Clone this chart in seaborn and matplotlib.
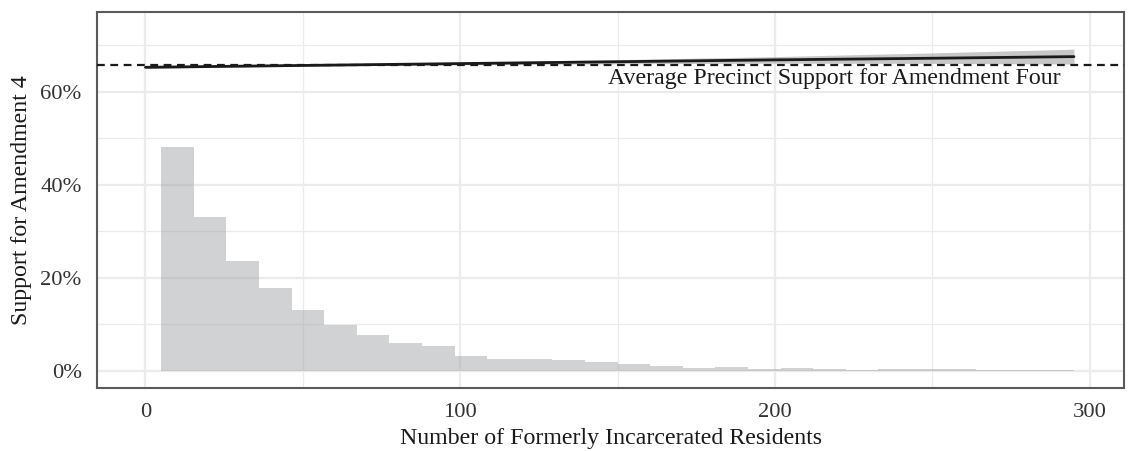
import numpy as np
import pandas as pd
import seaborn as sns
from matplotlib import pyplot as plt
from matplotlib.ticker import PercentFormatter, MultipleLocator

# histogram of precincts (28 bins from 5 to 295), heights in percent
bin_lo, bin_hi, n_bins = 5, 295, 28
bin_heights = [48.2, 33.1, 23.7, 17.8, 13.1, 9.9, 7.7, 6.0, 5.4, 3.2,
               2.6, 2.6, 2.3, 1.9, 1.5, 1.1, 0.65, 0.86, 0.33, 0.64,
               0.36, 0.14, 0.36, 0.3, 0.43, 0.21, 0.07, 0.07]

# fitted line with confidence band
fit_x = [0, 50, 100, 150, 200, 250, 295]
fit_y = [65.3, 65.7, 66.1, 66.5, 66.9, 67.25, 67.6]
fit_lo = [65.1, 65.55, 65.85, 66.05, 66.2, 66.15, 66.0]
fit_hi = [65.5, 65.85, 66.35, 66.95, 67.6, 68.4, 69.2]

avg_support = 65.8
avg_label = 'Average Precinct Support for Amendment Four'

sns.set_theme(style='whitegrid')
plt.rcParams['font.family'] = ['Liberation Serif', 'DejaVu Serif']

fig, ax = plt.subplots(figsize=(11.32, 4.51), dpi=100)
fig.subplots_adjust(left=97 / 1132, right=1124 / 1132, top=1 - 12 / 451, bottom=1 - 388 / 451)

width = (bin_hi - bin_lo) / n_bins
df = pd.DataFrame({'x': bin_lo + width * (np.arange(n_bins) + 0.5), 'h': bin_heights})
sns.histplot(data=df, x='x', weights='h', binwidth=width, binrange=(bin_lo, bin_hi),
             color='#9a9ca0', alpha=0.45, linewidth=0, ax=ax)

fit = pd.DataFrame({'x': fit_x, 'y': fit_y, 'lo': fit_lo, 'hi': fit_hi})
ax.fill_between(fit['x'], fit['lo'], fit['hi'], color='#999999', alpha=0.55, linewidth=0, zorder=3)
sns.lineplot(data=fit, x='x', y='y', color='#1a1a1a', linewidth=2.0, ax=ax, zorder=4)

ax.axhline(avg_support, color='#1a1a1a', linestyle=(0, (3.5, 2.5)), linewidth=1.6, zorder=5)
ax.text(219, 62.8, avg_label, ha='center', va='center', fontsize=17.2, color='#1a1a1a')

ax.set_xlim(-15.4, 310.9)
ax.set_ylim(-3.7, 77.2)
ax.xaxis.set_major_locator(MultipleLocator(100))
ax.xaxis.set_minor_locator(MultipleLocator(50))
ax.yaxis.set_major_locator(MultipleLocator(20))
ax.yaxis.set_minor_locator(MultipleLocator(10))
ax.yaxis.set_major_formatter(PercentFormatter(100, decimals=0))

ax.grid(which='major', color='#ebebeb', linewidth=1.6)
ax.grid(which='minor', color='#ebebeb', linewidth=0.9)
ax.set_axisbelow(True)

for s in ax.spines.values():
    s.set_visible(True)
    s.set_color('#5a5a5a')
    s.set_linewidth(1.5)
ax.tick_params(axis='both', which='major', direction='out', length=4, width=1.5,
               color='#5a5a5a', labelsize=16.2, labelcolor='#333333', pad=7)
ax.tick_params(axis='both', which='minor', length=0)

ax.set_xlabel('Number of Formerly Incarcerated Residents', fontsize=17.2, color='#1a1a1a', labelpad=4)
ax.set_ylabel('Support for Amendment 4', fontsize=17.2, color='#1a1a1a', labelpad=6)

fig.savefig('out.png', dpi=100)
